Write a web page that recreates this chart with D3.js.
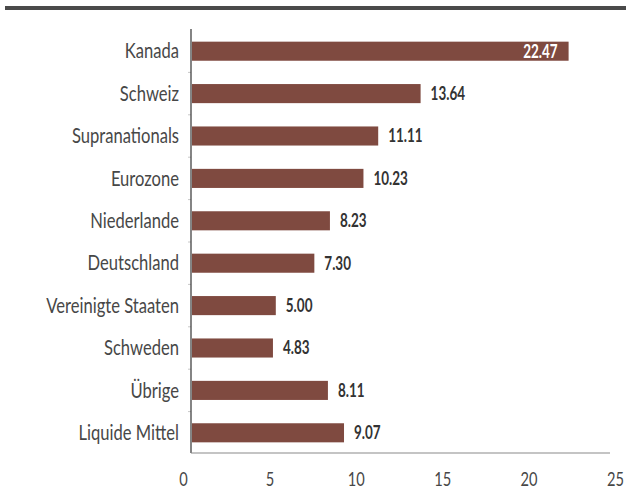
<!DOCTYPE html>
<html>
<head>
<meta charset="utf-8">
<script src="https://cdn.jsdelivr.net/npm/d3@7"></script>
<style>
html,body{margin:0;padding:0;background:#fff;}
svg{display:block;}
</style>
</head>
<body>
<svg id="chart" width="626" height="494"></svg>
<script>
const categories = ["Kanada","Schweiz","Supranationals","Eurozone","Niederlande","Deutschland","Vereinigte Staaten","Schweden","Übrige","Liquide Mittel"];
const values = [22.47,13.64,11.11,10.23,8.23,7.30,5.00,4.83,8.11,9.07];
const valueLabels = ["22.47","13.64","11.11","10.23","8.23","7.30","5.00","4.83","8.11","9.07"];
const tickValues = [0,5,10,15,20,25];

const svg = d3.select("#chart");
const labelFont = "Lato, 'Open Sans', sans-serif";

function measure(txt, size, weight){
  const t = svg.append("text").attr("font-family",labelFont).attr("font-size",size).attr("font-weight",weight).text(txt);
  const w = t.node().getComputedTextLength();
  t.remove();
  return w;
}
const catScale = (131 / measure("Vereinigte Staaten", 20.5, 400) + 55 / measure("Kanada", 20.5, 400)) / 2;
const valScale = (35 / measure("13.64", 18, 700) + 34 / measure("22.47", 18, 700)) / 2;
const tickScale = 17 / measure("25", 19, 400);

svg.append("rect").attr("x",5).attr("y",6).attr("width",621).attr("height",4).attr("fill","#4a4a4a");

const x = d3.scaleLinear().domain([0,25]).range([192,611]);
const xLab = d3.scaleLinear().domain([0,25]).range([183,615]);
const y = d3.scaleBand().domain(categories).range([30,454]).paddingInner(0.55).paddingOuter(0.275);

// band boundary ticks
const bounds = d3.range(1, categories.length).map(i => 30 + i*y.step());
svg.append("g").selectAll("line").data(bounds).join("line")
  .attr("x1",188).attr("x2",191).attr("y1",d=>d).attr("y2",d=>d)
  .attr("stroke","#c8c8c8").attr("stroke-width",1);

svg.append("g").selectAll("rect").data(values).join("rect")
  .attr("x",x(0)).attr("y",(d,i)=>y(categories[i]))
  .attr("width",d=>x(d)-x(0)).attr("height",y.bandwidth())
  .attr("fill","#7f4a40");

// axes lines
svg.append("line").attr("x1",191).attr("x2",191).attr("y1",29).attr("y2",453).attr("stroke","#333").attr("stroke-width",1.2);
svg.append("line").attr("x1",191).attr("x2",610).attr("y1",453).attr("y2",453).attr("stroke","#8a8a8a").attr("stroke-width",1.2);

// category labels
const yAxis = d3.axisLeft(y).tickSize(0).tickPadding(0);
const gy = svg.append("g").attr("transform","translate(179,0)").call(yAxis);
gy.select(".domain").remove();
gy.selectAll("text").attr("font-family",labelFont).attr("font-size",20.5).attr("fill","#474747")
  .attr("x",0).attr("dy","0.35em").attr("transform",`scale(${catScale},1)`);

// x tick labels
const xAxis = d3.axisBottom(xLab).tickValues(tickValues).tickSize(0).tickPadding(0).tickFormat(d3.format("d"));
const gx = svg.append("g").attr("transform","translate(0,473)").call(xAxis);
gx.select(".domain").remove();
gx.selectAll("text").attr("font-family",labelFont).attr("font-size",19).attr("fill","#474747")
  .attr("dy","0.71em").attr("transform",`scale(${tickScale},1)`);

// value labels
svg.append("g").selectAll("g").data(values).join("g")
  .attr("transform",(d,i)=>`translate(${i===0 ? x(d)-11 : x(d)+10},${y(categories[i])+y.bandwidth()/2})`)
  .append("text")
  .attr("dy","0.36em")
  .attr("text-anchor",(d,i)=> i===0 ? "end" : "start")
  .attr("transform",`scale(${valScale},1)`)
  .attr("font-family",labelFont).attr("font-weight","bold").attr("font-size",18)
  .attr("fill",(d,i)=> i===0 ? "#fff" : "#333")
  .text((d,i)=>valueLabels[i]);
</script>
</body>
</html>
